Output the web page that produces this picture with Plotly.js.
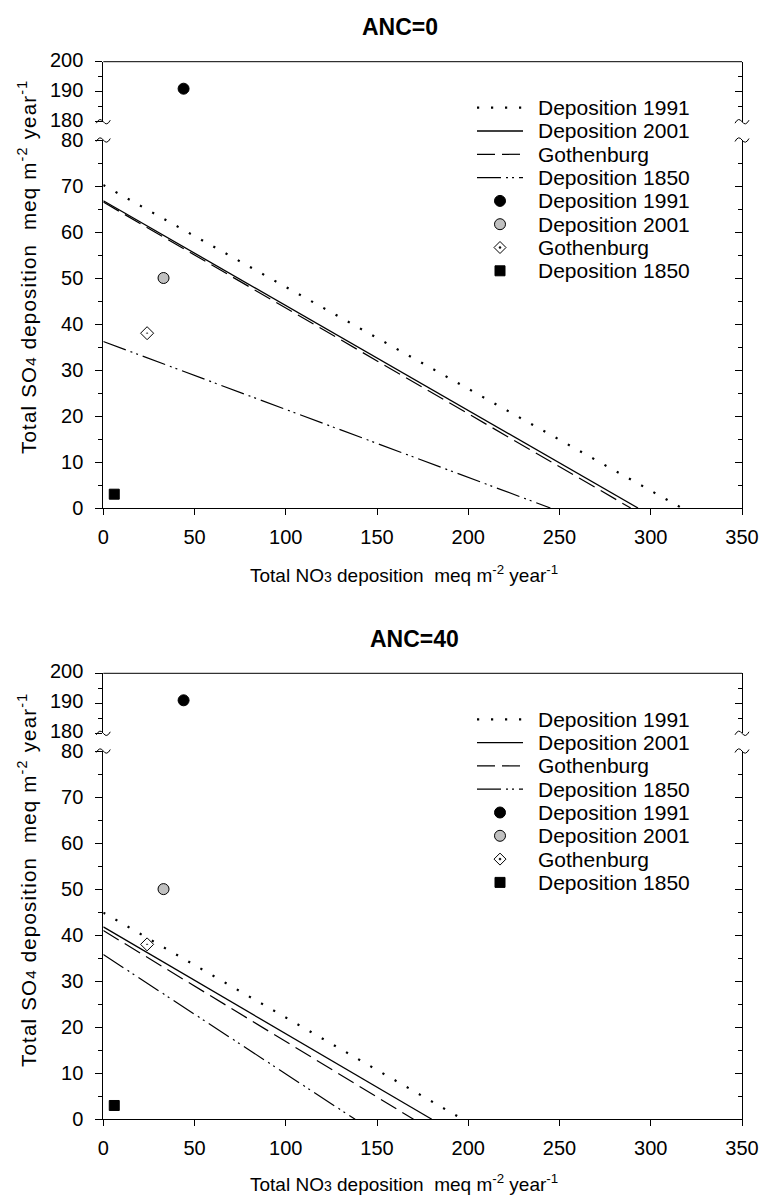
<!DOCTYPE html>
<html>
<head>
<meta charset="utf-8">
<script src="https://cdn.plot.ly/plotly-3.0.1.min.js"></script>
<style>
html,body{margin:0;padding:0;background:#fff;}
#chart{width:762px;height:1196px;}
</style>
</head>
<body>
<div id="chart"></div>
<script>
// ---------- data ----------
const seriesNames = ['Deposition 1991', 'Deposition 2001', 'Gothenburg', 'Deposition 1850'];
const panelTitles = ['ANC=0', 'ANC=40'];
const xTickVals = [0, 50, 100, 150, 200, 250, 300, 350];

// ANC=0 critical-load lines (end points: NO3, SO4)
const anc0Dep1991X = [0, 317];   const anc0Dep1991Y = [70.2, 0];
const anc0Dep2001X = [0, 293];   const anc0Dep2001Y = [66.8, 0];
const anc0GothX    = [0, 289];   const anc0GothY    = [66.5, 0];
const anc0Dep1850X = [0, 245];   const anc0Dep1850Y = [36.2, 0];

// ANC=40 critical-load lines
const anc40Dep1991X = [0, 197];  const anc40Dep1991Y = [44.9, 0];
const anc40Dep2001X = [0, 180];  const anc40Dep2001Y = [41.8, 0];
const anc40GothX    = [0, 170];  const anc40GothY    = [41.0, 0];
const anc40Dep1850X = [0, 138];  const anc40Dep1850Y = [35.8, 0];

// Measured depositions (same in both panels): NO3, SO4
const pointNO3 = [44, 33, 24, 6];
const pointSO4 = [191, 50, 38, 3];

// ---------- geometry helpers ----------
const W = 762, H = 1196;
const fx = p => p / W;
const fy = p => 1 - p / H;
const FONT = 'Liberation Sans, Arial, Helvetica, sans-serif';
const PLOT_L = 103.3, PLOT_R = 742;

const lineStyles = [
  {color: '#000', width: 2.2, dash: '2.2px,11.8px'},
  {color: '#000', width: 1.3, dash: 'solid'},
  {color: '#000', width: 1.2, dash: '18px,7px'},
  {color: '#000', width: 1.2, dash: '24px,5px,2px,4px,2px,5px'}
];
const markerStyles = [
  {symbol: 'circle', size: 11, color: '#000', line: {color: '#000', width: 1}},
  {symbol: 'circle', size: 11, color: '#c0c0c0', line: {color: '#000', width: 1}},
  {symbol: 'diamond-open-dot', size: 10, color: '#000', line: {color: '#000', width: 1}},
  {symbol: 'square', size: 10, color: '#000', line: {color: '#000', width: 1}}
];

function panelTraces(lineXs, lineYs, xa, yLow, yHigh) {
  const out = [];
  for (let i = 0; i < 4; i++) {
    out.push({
      type: 'scatter', mode: 'lines', x: lineXs[i], y: lineYs[i],
      xaxis: xa, yaxis: yLow, name: seriesNames[i],
      line: lineStyles[i], showlegend: false, hoverinfo: 'skip'
    });
  }
  for (let i = 0; i < 4; i++) {
    const upper = pointSO4[i] > 180;
    out.push({
      type: 'scatter', mode: 'markers', x: [pointNO3[i]], y: [pointSO4[i]],
      xaxis: xa, yaxis: upper ? yHigh : yLow, name: seriesNames[i],
      marker: markerStyles[i], showlegend: false, cliponaxis: false
    });
  }
  return out;
}

// empty carrier traces so the right-hand (mirrored) axes get drawn
function carrier(xa, ya) {
  return {type: 'scatter', mode: 'markers', x: [], y: [], xaxis: xa, yaxis: ya, showlegend: false, hoverinfo: 'skip'};
}

const traces = [].concat(
  panelTraces([anc0Dep1991X, anc0Dep2001X, anc0GothX, anc0Dep1850X],
              [anc0Dep1991Y, anc0Dep2001Y, anc0GothY, anc0Dep1850Y], 'x', 'y', 'y2'),
  panelTraces([anc40Dep1991X, anc40Dep2001X, anc40GothX, anc40Dep1850X],
              [anc40Dep1991Y, anc40Dep2001Y, anc40GothY, anc40Dep1850Y], 'x2', 'y3', 'y4'),
  [carrier('x', 'y5'), carrier('x', 'y6'), carrier('x2', 'y7'), carrier('x2', 'y8')]
);

// ---------- axes ----------
const tickFont = {family: FONT, size: 20, color: '#000'};
function xAxis(anchor) {
  return {
    domain: [fx(PLOT_L), fx(PLOT_R)], range: [0, 350], anchor: anchor,
    tickvals: xTickVals, ticks: 'outside', ticklen: 6, tickwidth: 1, tickcolor: '#000',
    showline: true, linecolor: '#000', linewidth: 1, showgrid: false, zeroline: false,
    tickfont: tickFont, ticklabelstandoff: 5, fixedrange: true
  };
}
function yAxis(anchor, domain, range, shift) {
  return {
    domain: domain, range: range, anchor: anchor,
    dtick: 10, tick0: 0, ticks: 'outside', ticklen: 7, tickwidth: 1, tickcolor: '#000',
    minor: {dtick: 5, ticks: 'outside', ticklen: 4, tickwidth: 1, tickcolor: '#000', showgrid: false},
    showline: true, linecolor: '#000', linewidth: 1, showgrid: false, zeroline: false,
    tickfont: tickFont, ticklabelstandoff: 8, ticklabelshift: shift, fixedrange: true
  };
}
function yRight(anchor, overlay, range) {
  return {
    overlaying: overlay, side: 'right', anchor: anchor, range: range,
    dtick: 10, tick0: 0, ticks: 'inside', ticklen: 7, tickwidth: 1, tickcolor: '#000',
    minor: {dtick: 5, ticks: 'inside', ticklen: 4, tickwidth: 1, tickcolor: '#000', showgrid: false},
    showline: true, linecolor: '#000', linewidth: 1, showgrid: false, zeroline: false,
    showticklabels: false, fixedrange: true
  };
}

// top panel pixel layout
const T_Y0 = 508, T_Y80 = 140, T_Y180 = 121.7, T_Y200 = 61.7;
// bottom panel pixel layout
const B_Y0 = 1119.3, B_Y80 = 751, B_Y180 = 733.3, B_Y200 = 673.3;

function squiggle(cx, cy) {
  return {
    type: 'path', xref: 'paper', yref: 'paper',
    path: `M ${fx(cx - 7)},${fy(cy + 1.5)} Q ${fx(cx - 3.5)},${fy(cy - 5)} ${fx(cx)},${fy(cy)} Q ${fx(cx + 3.5)},${fy(cy + 5)} ${fx(cx + 7)},${fy(cy - 1.5)}`,
    line: {color: '#000', width: 1}
  };
}

const shapes = [
  {type: 'line', xref: 'x domain', yref: 'y2 domain', x0: 0, x1: 1, y0: 1, y1: 1, line: {color: '#000', width: 1}},
  {type: 'line', xref: 'x2 domain', yref: 'y4 domain', x0: 0, x1: 1, y0: 1, y1: 1, line: {color: '#000', width: 1}}
];
[[T_Y180, T_Y80], [B_Y180, B_Y80]].forEach(pair => {
  pair.forEach(py => {
    shapes.push(squiggle(PLOT_L, py));
    shapes.push(squiggle(PLOT_R, py));
  });
});

const xTitle = 'Total NO<span style="font-size:14px">3</span> deposition  meq m<sup>-2</sup> year<sup>-1</sup>';
const yTitle = '<span style="letter-spacing:1.2px">Total SO<span style="font-size:15px">4</span> deposition  meq m<sup>-2</sup> year<sup>-1</sup></span>';

const annotations = [
  {xref: 'paper', yref: 'paper', x: fx(400), y: fy(27), text: '<b>' + panelTitles[0] + '</b>', showarrow: false,
   font: {family: FONT, size: 23, color: '#000'}, xanchor: 'center', yanchor: 'middle'},
  {xref: 'paper', yref: 'paper', x: fx(414), y: fy(639), text: '<b>' + panelTitles[1] + '</b>', showarrow: false,
   font: {family: FONT, size: 23, color: '#000'}, xanchor: 'center', yanchor: 'middle'},
  {xref: 'paper', yref: 'paper', x: fx(404), y: fy(574), text: xTitle, showarrow: false,
   font: {family: FONT, size: 19, color: '#000'}, xanchor: 'center', yanchor: 'middle'},
  {xref: 'paper', yref: 'paper', x: fx(404), y: fy(1183), text: xTitle, showarrow: false,
   font: {family: FONT, size: 19, color: '#000'}, xanchor: 'center', yanchor: 'middle'},
  {xref: 'paper', yref: 'paper', x: fx(27), y: fy(267), text: yTitle, showarrow: false, textangle: -90,
   font: {family: FONT, size: 20.5, color: '#000'}, xanchor: 'center', yanchor: 'middle'},
  {xref: 'paper', yref: 'paper', x: fx(27), y: fy(880), text: yTitle, showarrow: false, textangle: -90,
   font: {family: FONT, size: 20.5, color: '#000'}, xanchor: 'center', yanchor: 'middle'}
];

// ---------- legends (one per panel): sample symbols + labels ----------
const LEG_SAMPLE_L = 477, LEG_SAMPLE_R = 523, LEG_SAMPLE_C = 500, LEG_TEXT_X = 536, LEG_ROW = 23.3;
function addLegend(firstRowY) {
  for (let i = 0; i < 8; i++) {
    const ry = firstRowY + i * LEG_ROW;
    annotations.push({
      xref: 'paper', yref: 'paper', x: fx(LEG_TEXT_X), y: fy(ry), text: seriesNames[i % 4],
      showarrow: false, xanchor: 'left', yanchor: 'middle',
      font: {family: FONT, size: 21, color: '#000'}
    });
    if (i < 4) {
      shapes.push({type: 'line', xref: 'paper', yref: 'paper',
        x0: fx(LEG_SAMPLE_L), x1: fx(LEG_SAMPLE_R), y0: fy(ry), y1: fy(ry), line: lineStyles[i]});
    } else {
      const m = markerStyles[i - 4];
      const base = {xref: 'paper', yref: 'paper', xsizemode: 'pixel', ysizemode: 'pixel',
        xanchor: fx(LEG_SAMPLE_C), yanchor: fy(ry)};
      const r = m.size / 2;
      if (m.symbol === 'circle') {
        shapes.push(Object.assign({type: 'circle', x0: -r, x1: r, y0: -r, y1: r,
          fillcolor: m.color, line: {color: '#000', width: 1}}, base));
      } else if (m.symbol === 'square') {
        shapes.push(Object.assign({type: 'rect', x0: -r, x1: r, y0: -r, y1: r,
          fillcolor: m.color, line: {color: '#000', width: 1}}, base));
      } else {
        const d = r + 1;
        shapes.push(Object.assign({type: 'path', path: `M 0,${d} L ${d},0 L 0,${-d} L ${-d},0 Z`,
          fillcolor: '#fff', line: {color: '#000', width: 1}}, base));
        shapes.push(Object.assign({type: 'circle', x0: -1, x1: 1, y0: -1, y1: 1,
          fillcolor: '#000', line: {color: '#000', width: 0.5}}, base));
      }
    }
  }
}
addLegend(T_Y200 + 46);
addLegend(B_Y200 + 46);

const layout = {
  width: W, height: H, paper_bgcolor: '#fff', plot_bgcolor: 'rgba(0,0,0,0)',
  margin: {l: 0, r: 0, t: 0, b: 0, autoexpand: false},
  font: {family: FONT, color: '#000'},
  showlegend: false,
  xaxis: xAxis('y'),
  yaxis: yAxis('x', [fy(T_Y0), fy(T_Y80)], [0, 80], 0),
  yaxis2: yAxis('x', [fy(T_Y180), fy(T_Y200)], [180, 200], -2),
  xaxis2: xAxis('y3'),
  yaxis3: yAxis('x2', [fy(B_Y0), fy(B_Y80)], [0, 80], 0),
  yaxis4: yAxis('x2', [fy(B_Y180), fy(B_Y200)], [180, 200], -2),
  yaxis5: yRight('x', 'y', [0, 80]),
  yaxis6: yRight('x', 'y2', [180, 200]),
  yaxis7: yRight('x2', 'y3', [0, 80]),
  yaxis8: yRight('x2', 'y4', [180, 200]),
  shapes: shapes,
  annotations: annotations
};

Plotly.newPlot('chart', traces, layout, {displayModeBar: false, staticPlot: true});
</script>
</body>
</html>
